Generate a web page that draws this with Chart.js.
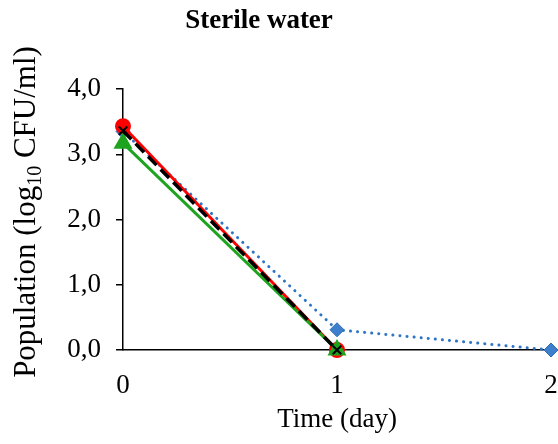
<!DOCTYPE html>
<html>
<head>
<meta charset="utf-8">
<script src="https://cdn.jsdelivr.net/npm/chart.js@4"></script>
<style>
  html, body { margin: 0; padding: 0; background: #fff; }
  #wrap { width: 558px; height: 444px; }
</style>
</head>
<body>
<div id="wrap"><canvas id="waterChart" width="558" height="444"></canvas></div>
<script>
// Data
const days = [0, 1, 2];
const seriesBlue = [3.35, 0.31, 0];
const seriesGreen = [3.17, 0, null];
const seriesRed = [3.43, 0, null];
const seriesBlack = [3.36, 0, null];
const yTicks = [0, 1, 2, 3, 4];

const serif = '"Liberation Serif", "Times New Roman", serif';

function toPoints(values) {
  return days.map((d, i) => ({ x: d, y: values[i] }));
}

// Title and y-axis title with subscript, drawn as canvas text
const textPlugin = {
  id: 'textPlugin',
  afterDraw(chart) {
    const ctx = chart.ctx;
    ctx.save();
    ctx.fillStyle = '#000';
    ctx.textBaseline = 'middle';
    ctx.textAlign = 'center';
    ctx.font = 'bold 27px ' + serif;
    ctx.fillText('Sterile water', 259, 21);

    // y title, rotated
    ctx.translate(25, 212);
    ctx.rotate(-Math.PI / 2);
    const big = '31px ' + serif;
    const small = '20px ' + serif;
    const parts = [
      { t: 'Population (log', f: big, dy: 0 },
      { t: '10', f: small, dy: 6 },
      { t: ' CFU/ml)', f: big, dy: 0 }
    ];
    let total = 0;
    parts.forEach(p => { ctx.font = p.f; p.w = ctx.measureText(p.t).width; total += p.w; });
    let x = -total / 2;
    ctx.textAlign = 'left';
    ctx.textBaseline = 'alphabetic';
    parts.forEach(p => {
      ctx.font = p.f;
      ctx.fillText(p.t, x, 10 + p.dy);
      x += p.w;
    });
    ctx.restore();
  }
};

const ctx = document.getElementById('waterChart').getContext('2d');
new Chart(ctx, {
  type: 'line',
  data: {
    datasets: [
      {
        label: 'Blue',
        data: toPoints(seriesBlue),
        borderColor: '#2e75c6',
        backgroundColor: '#3d7fcc',
        borderWidth: 3,
        borderDash: [0.1, 7],
        borderCapStyle: 'round',
        pointStyle: 'rectRot',
        pointRadius: 7,
        pointBorderColor: '#2e6db0',
        pointBorderWidth: 1,
        order: 4
      },
      {
        label: 'Red',
        data: toPoints(seriesRed),
        borderColor: '#ff0000',
        backgroundColor: '#ff0000',
        borderWidth: 3,
        pointStyle: 'circle',
        pointRadius: 6.5,
        order: 3
      },
      {
        label: 'Green',
        data: toPoints(seriesGreen),
        borderColor: '#1ea31e',
        backgroundColor: '#1ea31e',
        borderWidth: 3,
        pointStyle: 'triangle',
        pointRadius: 8,
        order: 2
      },
      {
        label: 'Black',
        data: toPoints(seriesBlack),
        borderColor: '#000',
        backgroundColor: '#000',
        borderWidth: 3.5,
        borderDash: [12, 6],
        pointStyle: 'crossRot',
        pointRadius: 6,
        pointBorderWidth: 2,
        order: 1
      }
    ]
  },
  options: {
    responsive: false,
    animation: false,
    clip: false,
    layout: { autoPadding: false, padding: { top: 89, right: 0, left: 0, bottom: 0 } },
    plugins: {
      legend: { display: false },
      title: { display: false },
      tooltip: { enabled: false }
    },
    scales: {
      x: {
        type: 'linear',
        min: 0,
        max: 2,
        afterBuildTicks(scale) { scale.ticks = days.map(v => ({ value: v })); },
        afterFit(scale) {
          scale.height = 94;
          scale.paddingRight = 7;
          scale.paddingLeft = 0;
        },
        grid: { display: false, drawTicks: false },
        border: { display: true, color: '#000', width: 1.5 },
        ticks: {
          color: '#000',
          padding: 20,
          maxRotation: 0,
          font: { family: serif, size: 27 },
          callback: v => String(v)
        },
        title: {
          display: true,
          text: 'Time (day)',
          color: '#000',
          font: { family: serif, size: 27 },
          padding: { top: 4, bottom: 8 }
        }
      },
      y: {
        min: 0,
        max: 4,
        afterBuildTicks(scale) { scale.ticks = yTicks.map(v => ({ value: v })); },
        afterFit(scale) { scale.width = 123; },
        grid: { drawOnChartArea: false, drawTicks: true, tickLength: 7, color: '#000', lineWidth: 1.5 },
        border: { display: true, color: '#000', width: 1.5 },
        ticks: {
          color: '#000',
          padding: 15,
          font: { family: serif, size: 27 },
          callback: v => v.toFixed(1).replace('.', ',')
        }
      }
    }
  },
  plugins: [textPlugin]
});
</script>
</body>
</html>
